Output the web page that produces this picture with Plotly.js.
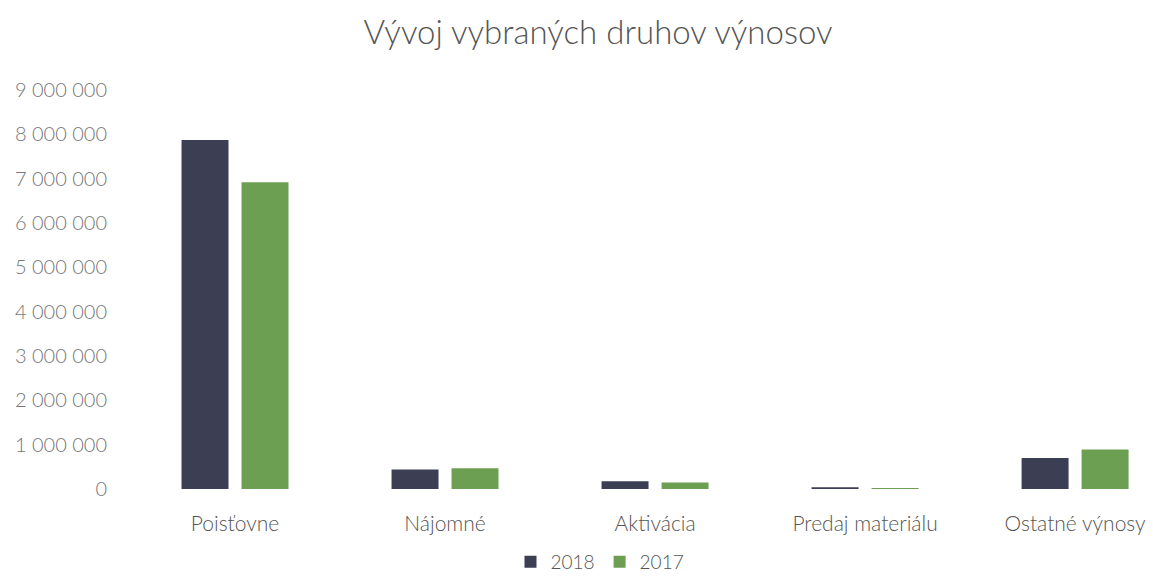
<!DOCTYPE html>
<html><head><meta charset="utf-8">
<script src="https://cdn.plot.ly/plotly-3.0.1.min.js"></script>
<style>html,body{margin:0;padding:0;background:#fff;}#chart{width:1153px;height:581px;}</style>
</head><body><div id="chart"></div>
<script>
const categories = ["Poisťovne", "Nájomné", "Aktivácia", "Predaj materiálu", "Ostatné výnosy"];
const values2018 = [7870000, 440000, 175000, 40000, 700000];
const values2017 = [6920000, 470000, 145000, 22000, 890000];
const seriesNames = ["2018", "2017"];
const yTicks = [0, 1000000, 2000000, 3000000, 4000000, 5000000, 6000000, 7000000, 8000000, 9000000];

const font = "Lato, 'Open Sans', 'Noto Sans', sans-serif";
const data = [
  {type: "bar", name: seriesNames[0], x: categories, y: values2018, marker: {color: "#3c3f54"}},
  {type: "bar", name: seriesNames[1], x: categories, y: values2017, marker: {color: "#6c9f52"}}
];
const layout = {
  width: 1153, height: 581,
  margin: {l: 130, r: 0, t: 90, b: 92},
  paper_bgcolor: "#fff", plot_bgcolor: "#fff",
  separators: ", ",
  barmode: "group", bargap: 0.4286, bargroupgap: 0.217,
  title: {text: "Vývoj vybraných druhov výnosov", x: 598/1153, xanchor: "center", y: 0.945, yanchor: "middle",
          font: {family: font, size: 33, color: "#555", weight: 300}},
  xaxis: {type: "category", range: [-0.5, 4.371], showgrid: false, showline: false, zeroline: false,
          ticks: "", ticklabelstandoff: 20, tickfont: {family: font, size: 21, color: "#555", weight: 300}, fixedrange: true},
  yaxis: {range: [0, 9000000], tickvals: yTicks, tickformat: ",d", showgrid: false, showline: false, zeroline: false,
          ticks: "", ticklabelstandoff: 22, tickfont: {family: font, size: 20, color: "#777", weight: 300}, fixedrange: true},
  legend: {orientation: "h", xref: "container", yref: "container", x: 600/1153, xanchor: "center", y: 0.0, yanchor: "bottom",
           font: {family: font, size: 19, color: "#555", weight: 300}, itemwidth: 30, traceorder: "normal"},
  showlegend: true
};
Plotly.newPlot("chart", data, layout, {displayModeBar: false, staticPlot: true});
</script></body></html>
